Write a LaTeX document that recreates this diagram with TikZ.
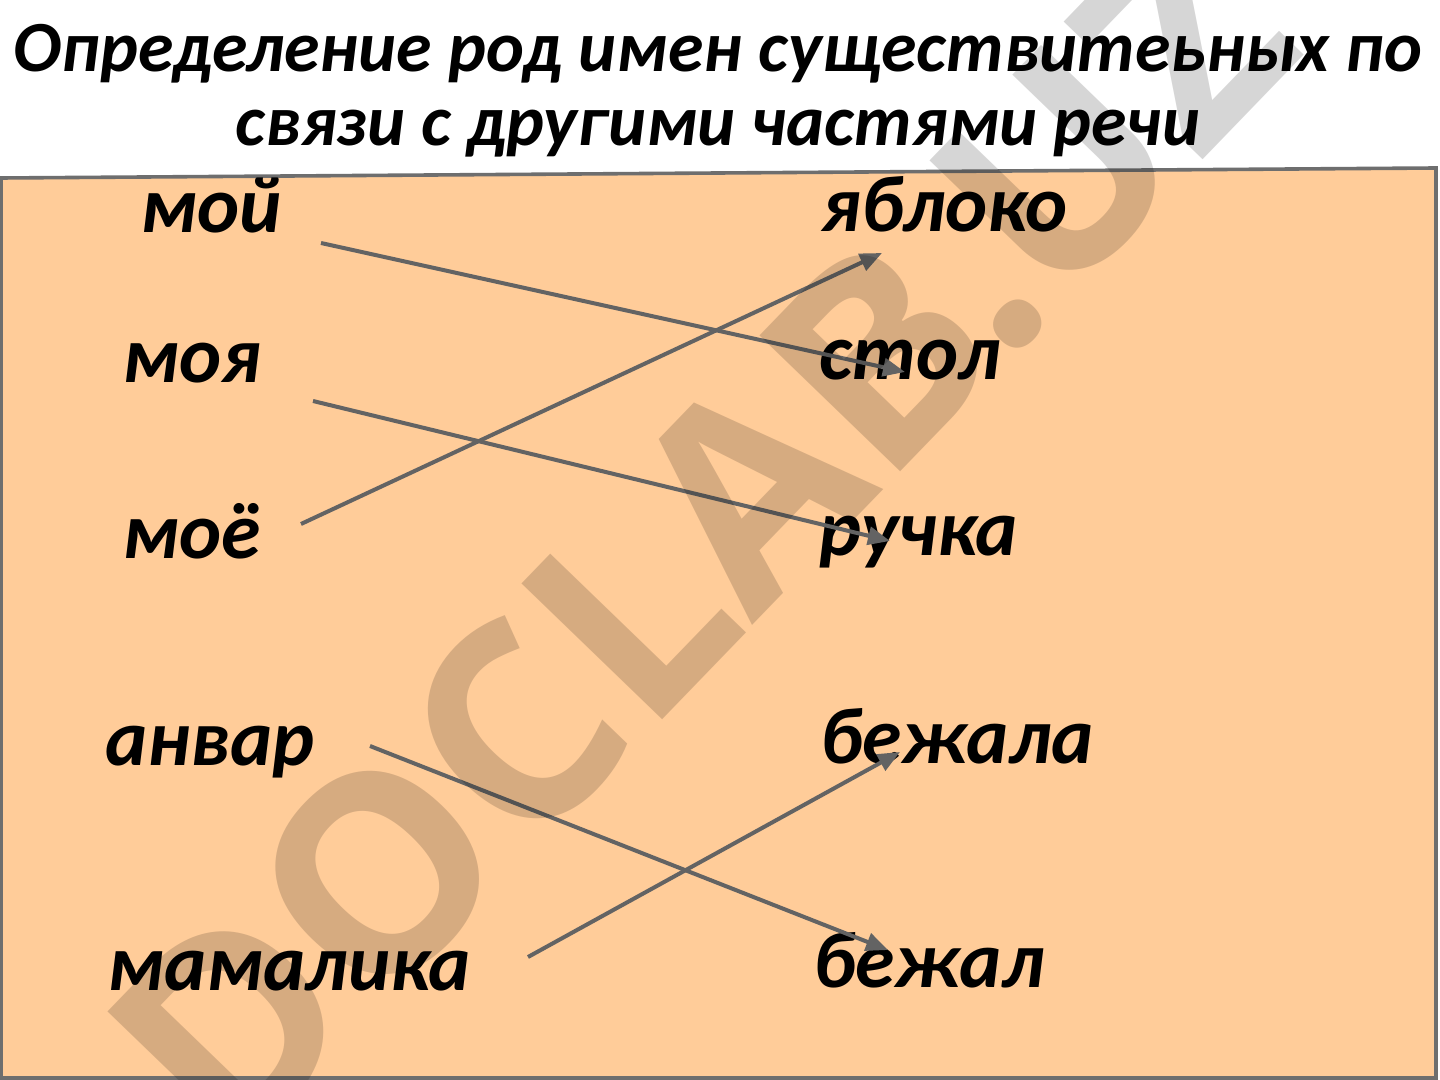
\documentclass[tikz,border=0pt]{standalone}
\usepackage{fontspec}
\setmainfont{Carlito}
\newfontfamily\wmfont{Open Sans}
\usetikzlibrary{arrows.meta}
\definecolor{boxfill}{HTML}{FFCC99}
\definecolor{boxline}{HTML}{6E6E6E}
\definecolor{arrcol}{HTML}{636363}
\tikzset{
  word/.style={anchor=base west, inner sep=0pt, font=\fontsize{40pt}{48pt}\selectfont\bfseries\itshape},
  ttl/.style={anchor=base, inner sep=0pt, font=\fontsize{36pt}{44pt}\selectfont\bfseries\itshape},
  link/.style={draw=arrcol, line width=2pt, -{Triangle[length=11pt,width=9pt]}},
}
\begin{document}
\begin{tikzpicture}[x=0.5pt,y=-0.5pt]
\useasboundingbox (0,0) rectangle (1440,1080);
\fill[white] (0,0) rectangle (1440,1080);
% title
\node[ttl] (t1) at (718,72) {Определение род имен существитеьных по};
\node[ttl] (t2) at (718,146) {связи с другими частями речи};
% panel
\draw[boxline, fill=boxfill, line width=1.8pt] (1,178) -- (1436,168) -- (1436,1078) -- (1,1078) -- cycle;
% left words
\node[word] (moj) at (140,233) {мой};
\node[word] (moja) at (122,383) {моя};
\node[word] (moje) at (122,558) {моё};
\node[word] (anvar) at (105,765) {анвар};
\node[word] (mamalika) at (107,990) {мамалика};
% right words
\node[word] (jabloko) at (821,232) {яблоко};
\node[word] (stol) at (819,380) {стол};
\node[word] (ruchka) at (819,555) {ручка};
\node[word] (bezhala) at (820,763) {бежала};
\node[word] (bezhal) at (813,987) {бежал};
% connector ends
\coordinate (s1) at (321,243); \coordinate (e1) at (905,372);
\coordinate (s2) at (313,401); \coordinate (e2) at (890,541);
\coordinate (s3) at (301,524); \coordinate (e3) at (882,253);
\coordinate (s4) at (370,746); \coordinate (e4) at (888,950);
\coordinate (s5) at (528,957); \coordinate (e5) at (900,752);
\draw[link] (s1) -- (e1);
\draw[link] (s2) -- (e2);
\draw[link] (s3) -- (e3);
\draw[link] (s4) -- (e4);
\draw[link] (s5) -- (e5);
% watermark
\node[rotate=46, inner sep=0pt, text=black, text opacity=0.16, font=\fontsize{137pt}{150pt}\selectfont\wmfont\bfseries] (wm) at (700,540) {DOCLAB.UZ};
\end{tikzpicture}
\end{document}
